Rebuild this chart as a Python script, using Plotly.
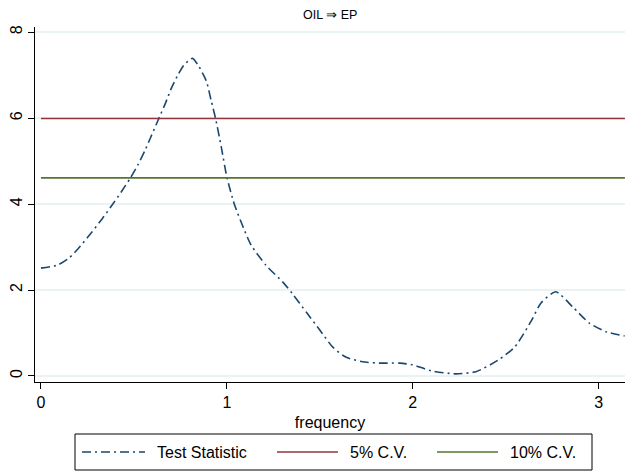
import plotly.graph_objects as go

# ---- data ----
freq = [0.0, 0.09, 0.15, 0.2, 0.25, 0.33, 0.38, 0.43, 0.48, 0.52, 0.56, 0.59, 0.63, 0.67,
        0.70, 0.74, 0.77, 0.815, 0.85, 0.89, 0.915, 0.94, 0.97, 1.0, 1.04, 1.09, 1.13, 1.21,
        1.3, 1.35, 1.43, 1.5, 1.57, 1.64, 1.73, 1.82, 1.93, 2.0, 2.1, 2.23, 2.34, 2.46,
        2.55, 2.64, 2.69, 2.77, 2.86, 2.95, 3.04, 3.14]
test_stat = [2.51, 2.58, 2.74, 2.96, 3.22, 3.66, 3.96, 4.27, 4.6, 4.9, 5.25, 5.55, 5.95, 6.35,
             6.68, 7.03, 7.24, 7.39, 7.2, 6.86, 6.42, 5.98, 5.33, 4.63, 4.0, 3.44, 3.05, 2.58,
             2.19, 1.93, 1.47, 1.07, 0.67, 0.44, 0.33, 0.30, 0.30, 0.26, 0.12, 0.05, 0.1, 0.37,
             0.68, 1.3, 1.7, 1.96, 1.61, 1.23, 1.03, 0.93]
cv_x = [0.0, 3.1416]
cv5 = 5.99
cv10 = 4.61
x_ticks = [0, 1, 2, 3]
y_ticks = [0, 2, 4, 6, 8]
title_text = "OIL ⇒ EP"
legend_names = ["Test Statistic", "5% C.V.", "10% C.V."]

BLUE = "#1a476f"
RED = "#90353b"
GREEN = "#55752f"
FONT = "Liberation Sans"
DASH = "9px,4px,2px,4px"

fig = go.Figure()
fig.add_trace(go.Scatter(x=freq, y=test_stat, mode="lines", name=legend_names[0],
                         line=dict(color=BLUE, width=1.6, dash=DASH, shape="spline", smoothing=0.6)))
fig.add_trace(go.Scatter(x=cv_x, y=[cv5, cv5], mode="lines", name=legend_names[1],
                         line=dict(color=RED, width=1.6)))
fig.add_trace(go.Scatter(x=cv_x, y=[cv10, cv10], mode="lines", name=legend_names[2],
                         line=dict(color=GREEN, width=1.6)))

# manual Stata-style legend box (paper coords)
L, T, H = 35, 27, 355  # plot area left, top px and height
def px2x(px):
    return (px - L) / 590.0
def py2y(py):
    return (382 - py) / H

shapes = [dict(type="rect", xref="paper", yref="paper",
               x0=px2x(75), x1=px2x(592), y0=py2y(470), y1=py2y(434),
               line=dict(color="black", width=1), fillcolor="white", layer="above")]
annots = []
items = [(82, 145, 155, BLUE, DASH), (277, 338, 348, RED, "solid"), (437, 498, 508, GREEN, "solid")]
ly = py2y(452)
for (a, b, t, c, d), name in zip(items, legend_names):
    shapes.append(dict(type="line", xref="paper", yref="paper", x0=px2x(a), x1=px2x(b),
                       y0=ly, y1=ly, line=dict(color=c, width=1.6, dash=d), layer="above"))
    annots.append(dict(xref="paper", yref="paper", x=px2x(t), y=ly, text=name, showarrow=False,
                       xanchor="left", yanchor="middle", font=dict(size=16, color="black", family=FONT)))
annots.append(dict(xref="paper", yref="paper", x=0.5, y=py2y(15), text=title_text, showarrow=False,
                   xanchor="center", yanchor="middle", font=dict(size=12.5, color="black", family=FONT)))

fig.update_layout(
    width=625, height=472,
    margin=dict(l=35, r=0, t=27, b=90, pad=0),
    paper_bgcolor="white", plot_bgcolor="white",
    showlegend=False,
    font=dict(family=FONT, size=16, color="black"),
    shapes=shapes, annotations=annots,
    xaxis=dict(range=[-0.032, 3.142], tickvals=x_ticks, ticks="outside", ticklen=6,
               tickcolor="black", showline=True, linecolor="black", linewidth=1,
               showgrid=False, zeroline=False,
               title=dict(text="frequency", font=dict(size=16), standoff=6),
               tickfont=dict(size=16)),
    yaxis=dict(range=[-0.14, 8.12], tickvals=y_ticks, ticks="outside", ticklen=6,
               tickcolor="black", showline=True, linecolor="black", linewidth=1,
               showgrid=True, gridcolor="#eaf2f3", gridwidth=1.5, zeroline=False,
               tickangle=-90, tickfont=dict(size=16)),
)
fig.write_html("out.html")
